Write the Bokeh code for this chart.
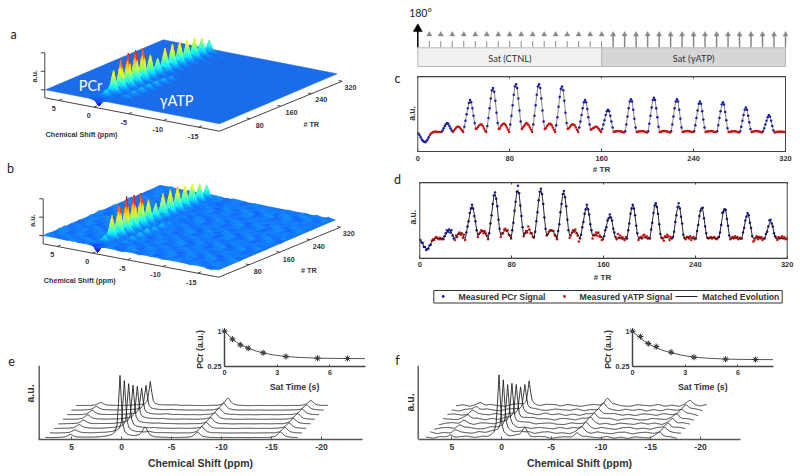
import numpy as np
from bokeh.embed import file_html
from bokeh.resources import INLINE
from bokeh.plotting import figure
from bokeh.models import Range1d, LinearAxis, FixedTicker
from bokeh.core.properties import value

# ---------- data ----------
matched_evolution = [
 24,22,19,16,14,13,12.5,14,16,19, 22,24,25,26,26.5,26.5,26.5,26,26,26,
 26,28,31,34,36.5,38,37,34,31,28, 26,28,30,32,33,33,32,30,28,26,
 33,41,50,58,65,69,66,58,48,38, 30,31,33,35,36,36,34,31,28,26,
 34,45,58,71,82,85,80,68,52,38, 30,31,34,36,37,37,35,32,29,26,
 36,48,62,76,87,90,85,71,55,40, 30,32,34,36,38,37,35,32,29,26,
 36,48,62,76,87,90,85,71,55,40, 30,31,34,36,37,37,35,32,29,26,
 35,46,60,73,84,87,82,68,52,38, 30,31,33,35,36.5,36,35,32,29,26,
 32,40,49,58,66,69,66,57,46,36, 29,30,31,32,33,33,32,30,28,26,
 30,36,42,49,54,56,54,48,40,32, 26.5,26.5,27,27,27.5,27,27,26.5,26,25.5,
 27,36,47,58,67,70,67,56,44,32, 26,26,27,27,27,27,27,26.5,26,25.5,
 27,37,48,59,69,72,69,58,46,33, 26,26,27,27,27.5,27,27,26.5,26,25.5,
 27,36,47,58,67,70,67,56,44,32, 26,26.5,27,27,27.5,27,27,26.5,26,26,
 27,35,45,55,64,67,64,54,43,32, 26,26.5,27,27,27,27.5,27,26.5,26,26,
 27,35,45,54,63,66,63,53,42,31, 26,26,26.5,27,27,27,27,26.5,26,25.5,
 27,33,41,49,56,59,56,48,39,30, 26,26.5,27,27,27.5,27,27,26.5,26,25.5,
 27,31,36,41,46,49,47,41,34,28, 25.5,26,26,26.5,26.5,26.5,26.5,26.5,26,26]

measured_d = [
 24,21,20,15,15,11,12,13,17,18, 23,25,24,27,28,26,25,27,25,26,
 25,29,33,37,35,38,34,37,30,26, 24,30,28,32,34,31,33,27,31,24,
 34,42,49,60,66,71,66,56,49,37, 28,32,34,37,36,33,36,33,30,25,
 33,46,57,72,83,87,79,69,51,39, 28,33,33,38,39,36,37,31,30,26,
 37,47,63,75,88,96,86,70,56,41, 29,33,36,34,42,38,33,33,28,28,
 35,49,61,77,88,92,85,72,54,39, 30,32,35,37,37,36,36,31,29,25,
 36,45,61,72,85,89,81,69,51,37, 27,30,34,37,35,38,33,30,22,26,
 31,41,48,59,65,71,65,58,45,37, 26,31,30,34,30,34,29,28,24,25,
 29,37,41,50,53,58,54,50,39,34, 28,25,32,27,30,26,28,25,24,28,
 26,37,46,59,66,71,66,57,43,33, 24,27,28,26,30,31,28,29,26,27,
 26,38,47,60,70,73,68,59,45,32, 27,26,23,29,28,31,29,24,28,26,
 28,35,48,57,68,73,66,55,46,31, 27,25,28,28,26,29,24,27,28,25,
 26,36,44,56,63,66,67,53,42,33, 27,26,27,28,26,27,28,26,25,27,
 28,34,44,60,62,65,64,52,43,30, 25,27,28,26,29,27,28,25,27,26,
 26,34,40,50,55,60,57,47,40,29, 22,24,27,29,25,28,26,28,24,26,
 26,32,35,42,50,51,46,42,33,29, 27,24,28,26,27,29,26,28,25,26]

tr_ticks = [0, 80, 160, 240, 320]
pulse_tr = list(range(10, 321, 10))

sat_times = [0, 0.45, 0.9, 1.35, 2.2, 3.5, 5.3, 7]
pcr_sat_e = [1, 0.83, 0.707, 0.636, 0.536, 0.457, 0.421, 0.414]
pcr_sat_f = [1, 0.885, 0.735, 0.67, 0.55, 0.442, 0.40, 0.393]
curve_t = [0, 0.2, 0.45, 0.7, 0.9, 1.35, 1.8, 2.2, 2.8, 3.5, 4.3, 5.3, 6.2, 7, 8]
curve_e = [1, 0.92, 0.835, 0.76, 0.715, 0.635, 0.575, 0.535, 0.49, 0.458, 0.437, 0.423, 0.417, 0.414, 0.412]
curve_f = [1, 0.93, 0.85, 0.78, 0.73, 0.645, 0.58, 0.54, 0.485, 0.445, 0.42, 0.403, 0.396, 0.393, 0.39]

ppm_ticks = [5, 0, -5, -10, -15, -20]
peak_off = [-6, -3, -2, -1.2, -0.8, -0.5, -0.3, -0.15, 0, 0.15, 0.3, 0.5, 0.8, 1.2, 2, 3, 6]
peak_val = [0, 0.005, 0.012, 0.03, 0.05, 0.09, 0.2, 0.55, 1, 0.55, 0.2, 0.09, 0.05, 0.03, 0.012, 0.005, 0]
broad_off = [-1.9, -1.0, -0.55, -0.28, -0.14, 0, 0.14, 0.28, 0.55, 1.0, 1.9]
broad_val = [0, 0.04, 0.2, 0.55, 0.85, 1, 0.85, 0.55, 0.2, 0.04, 0]
ridge_off = [-2.2, -1.6, -1.2, -0.8, -0.6, -0.4, -0.2, 0, 0.2, 0.4, 0.6, 0.8, 1.2, 1.6, 2.2]
ridge_val = [0, 0.01, 0.04, 0.12, 0.22, 0.4, 0.72, 1, 0.72, 0.4, 0.22, 0.12, 0.04, 0.01, 0]

e_pcr = [1.0, 0.844, 0.72, 0.624, 0.532, 0.43, 0.398, 0.387]
f_pcr = [1.0, 0.86, 0.70, 0.66, 0.57, 0.45, 0.42, 0.40]
atp_amp = [0.16, 0.02, 0.01, 0.01, 0.01, 0.01, 0.01, 0.01]
p5_amp = [0.05, 0.05, 0.06, 0.06, 0.07, 0.07, 0.06, 0.05]
m75_amp = [0.09, 0.1, 0.1, 0.1, 0.11, 0.11, 0.115, 0.12]
m16_amp = [0.09, 0.09, 0.09, 0.09, 0.09, 0.09, 0.085, 0.08]
wiggle = [0.008, -0.012, 0.015, -0.004, -0.016, 0.01, 0.017, -0.008, 0.003, -0.015, 0.012, 0.006,
          -0.011, 0.016, -0.002, -0.014, 0.009, 0.013, -0.017, 0.004, 0.011, -0.009, -0.013, 0.014,
          0.002, -0.006, 0.018, -0.012, 0.007, -0.016, 0.01, 0.001, -0.01, 0.015, -0.005, 0.012, -0.014]
ripple_u = [0.03, -0.04, 0.05, 0.01, -0.06, 0.04, -0.02, 0.06, -0.05, 0.02, 0.05, -0.03, -0.06, 0.03, 0.07, -0.01, -0.04, 0.05, 0.0, -0.07, 0.04, 0.02, -0.03]
ripple_v = [-0.02, 0.04, 0.0, -0.05, 0.06, 0.02, -0.04, 0.05, -0.01, -0.06, 0.03, 0.05, -0.03, 0.01, 0.06, -0.05, 0.02]

# ---------- canvas ----------
p = figure(width=800, height=476, x_range=Range1d(0, 800), y_range=Range1d(476, 0),
           toolbar_location=None, output_backend="svg", min_border=0,
           x_axis_location=None, y_axis_location=None, outline_line_color=None)
p.grid.visible = False

SANS = value("Liberation Sans")
LAT = value("Lato")
DARK = "#333333"

def xr(name, d0, d1, p0, p1):
    s = (d1 - d0) / (p1 - p0)
    p.extra_x_ranges[name] = Range1d(start=d0 + (0 - p0) * s, end=d0 + (800 - p0) * s)

def yr(name, d0, d1, p0, p1):
    s = (d1 - d0) / (p1 - p0)
    p.extra_y_ranges[name] = Range1d(start=d0 + (476 - p0) * s, end=d0 + (0 - p0) * s)

def txt(x, y, s, size=7.2, color=DARK, bold=True, font=SANS, angle=0, align="center"):
    p.text([x], [y], text=[s], text_font=font, text_font_size=f"{size}px", text_color=color,
           text_font_style="bold" if bold else "normal", text_align=align,
           text_baseline="middle", angle=angle)

def xaxis(xn, yn, loc, ticks, bounds, fs="7.5px", color=DARK, labels=True, tick_in=3, lw=1, lc="#444444", so=3):
    ax = LinearAxis(x_range_name=xn, y_range_name=yn, fixed_location=loc, ticker=FixedTicker(ticks=ticks),
                    bounds=bounds, major_tick_in=tick_in, major_tick_out=0, minor_tick_line_color=None,
                    axis_line_color=lc, axis_line_width=lw, major_tick_line_color=lc, major_tick_line_width=1,
                    major_label_text_font="Liberation Sans", major_label_text_font_style="bold",
                    major_label_text_font_size=fs, major_label_text_color=color if labels else None,
                    major_label_standoff=so,
                    major_label_overrides={t: str(t) for t in ticks})
    p.add_layout(ax, "below")
    return ax

def yaxis(xn, yn, loc, ticks, bounds, labels=None, lw=1, lc="#444444", fs="7.5px", tick_in=3):
    ax = LinearAxis(x_range_name=xn, y_range_name=yn, fixed_location=loc, ticker=FixedTicker(ticks=ticks),
                    bounds=bounds, major_tick_in=tick_in, major_tick_out=0, minor_tick_line_color=None,
                    axis_line_color=lc, axis_line_width=lw, major_tick_line_color=lc,
                    major_label_text_font="Liberation Sans", major_label_text_font_style="bold",
                    major_label_text_font_size=fs, major_label_text_color=DARK if labels else None,
                    major_label_standoff=3,
                    major_label_overrides=labels or {})
    p.add_layout(ax, "left")
    return ax

# ---------- panel letters ----------
for (x, y, s) in [(13, 34, "a"), (10, 168, "b"), (397, 78, "c"), (397, 179, "d"), (11, 360, "e"), (397, 360, "f")]:
    txt(x, y, s, size=12.5, color="#222222", bold=False, font=LAT)

# ---------- 3D surfaces ----------
def jet(t):
    t = np.clip(t, 0, 1)
    r = np.clip(min(4 * t - 1.5, -4 * t + 4.5), 0, 1)
    g = np.clip(min(4 * t - 0.5, -4 * t + 3.5), 0, 1)
    b = np.clip(min(4 * t + 0.5, -4 * t + 2.5), 0, 1)
    c = (np.array([r, g, b]) * 0.91 * 255 + 20).astype(int)
    return "#%02x%02x%02x" % tuple(np.clip(c, 0, 255))

def surface(org, ex, et, zs, series, rough):
    ox, oy = org
    def proj(ppm, tr, h):
        u = 7 - ppm
        return (ox + u * ex[0] / 25 + tr * et[0] / 320, oy + u * ex[1] / 25 + tr * et[1] / 320 - h * zs)
    c = [proj(7, 0, 0), proj(-18, 0, 0), proj(-18, 320, 0), proj(7, 320, 0)]
    p.patch([q[0] for q in c], [q[1] for q in c], fill_color="#1a6ce8", line_color="#1a6ce8", line_width=0.5)
    xs, ys, cols = [], [], []
    if rough:
        us = np.arange(7, -18.01, -0.8)
        ts = np.arange(320, -0.1, -8)
        def rz(i, j):
            return ripple_u[(i + j * 3) % 23] + ripple_v[(j + i * 5) % 17]
        for j in range(len(ts) - 1):
            for i in range(len(us) - 1):
                corners = [(i, j), (i + 1, j), (i + 1, j + 1), (i, j + 1)]
                q = [proj(us[a], ts[b], rz(a, b) * 0.35) for a, b in corners]
                m = np.mean([rz(a, b) for a, b in corners])
                xs.append([v[0] for v in q]); ys.append([v[1] for v in q]); cols.append(jet(0.235 + m * 0.55))
    amp = (np.array(series, float) - 26) / 64
    block = np.arange(320) // 10
    a_p = np.where(block % 2 == 0, amp, 0)
    a_a = np.where(block % 2 == 1, amp, 0)
    a_p = np.append(a_p, 0); a_a = np.append(a_a, 0)
    grid = np.arange(1.6, -4.41, -0.2)
    pk = np.interp(grid + 0.4, ridge_off, ridge_val)
    ak = np.interp(grid + 2.9, ridge_off, ridge_val) * 0.8
    for tr in range(319, -1, -1):
        h0 = a_p[tr] * pk + a_a[tr] * ak
        h1 = a_p[tr + 1] * pk + a_a[tr + 1] * ak
        for j in range(len(grid) - 1):
            hh = [h0[j], h0[j + 1], h1[j + 1], h1[j]]
            if max(abs(v) for v in hh) < 0.012:
                continue
            q = [proj(grid[j], tr, hh[0]), proj(grid[j + 1], tr, hh[1]),
                 proj(grid[j + 1], tr + 1, hh[2]), proj(grid[j], tr + 1, hh[3])]
            xs.append([v[0] for v in q]); ys.append([v[1] for v in q])
            cols.append(jet(0.23 + 0.77 * float(np.mean(hh))))
    p.patches(xs, ys, fill_color=cols, line_color=cols, line_width=0.4)

def axes3d(org, ex, et, flo, labs):
    p.line([flo[0][0], flo[1][0], flo[2][0]], [flo[0][1], flo[1][1], flo[2][1]], line_color="#444444", line_width=1)
    zx, zt, zb = flo[3]
    p.line([zx, zx], [zt, zb], line_color="#444444", line_width=1)
    zv = [zt, (zt + labs["z0"]) / 2, labs["z0"]]
    p.segment([zx - 4] * 3, zv, [zx] * 3, zv, line_color="#444444", line_width=1)
    fx0, fy0 = flo[0]; fx1, fy1 = flo[1]; fx2, fy2 = flo[2]
    L = 25.0
    sx, sy, ex2, ey2 = [], [], [], []
    for t in [5, 0, -5, -10, -15]:
        a = (7 - t) / L
        bx, by = fx0 + a * (fx1 - fx0), fy0 + a * (fy1 - fy0)
        sx.append(bx); sy.append(by); ex2.append(bx + 3.3); ey2.append(by - 1.4)
    for t in [80, 160, 240, 320]:
        a = t / 320
        bx, by = fx1 + a * (fx2 - fx1), fy1 + a * (fy2 - fy1)
        sx.append(bx); sy.append(by); ex2.append(bx - 3.5); ey2.append(by - 0.7)
    p.segment(sx, sy, ex2, ey2, line_color="#444444", line_width=1)
    for (x, y, s) in labs["t"]:
        txt(x, y, s)

org_a, ex_a, et_a = (45, 89.3), (174, 34), (117.7, -50)
surface(org_a, ex_a, et_a, 33.3, matched_evolution, False)
axes3d(org_a, ex_a, et_a, [(44.3, 97.3), (219, 130.7), (341.7, 80.7), (44.3, 52.3, 97.3)],
       {"z0": 89.3, "t": [(53.3, 108.3, "5"), (88.3, 115, "0"), (123.3, 121.7, "-5"), (157.3, 129, "-10"),
                          (192.7, 135.7, "-15"), (81, 134, "Chemical Shift (ppm)"), (259.3, 125, "80"),
                          (291, 112.3, "160"), (320.7, 99.3, "240"), (350, 86.7, "320"), (310.7, 124, "# TR")]})
txt(34, 75.7, "a.u.", angle=np.pi / 2)
txt(90, 85, "PCr", size=14.5, color="white", bold=False, font=LAT)
txt(176, 99.5, "γATP", size=14.5, color="white", bold=False, font=LAT)

org_b, ex_b, et_b = (43.3, 235), (175, 34.3), (116.7, -50)
surface(org_b, ex_b, et_b, 33, measured_d, True)
axes3d(org_b, ex_b, et_b, [(42.7, 243.3), (218.3, 276.7), (340, 226.7), (42.7, 198.3, 243.3)],
       {"z0": 235, "t": [(51.7, 254, "5"), (86.7, 260.7, "0"), (121.7, 267.7, "-5"), (155, 274.3, "-10"),
                         (190.7, 281.7, "-15"), (79.3, 280, "Chemical Shift (ppm)"), (257.3, 270.7, "80"),
                         (288.3, 259, "160"), (318.3, 245.7, "240"), (348.3, 232.7, "320"), (308.3, 270, "# TR")]})
txt(32.3, 220, "a.u.", angle=np.pi / 2)

# ---------- sequence diagram + panel c ----------
xr("cx", 0, 320, 417.3, 785)
yr("cy", 0, 100, 151, 76.3)
trs = np.arange(320)
blue = (trs // 10) % 2 == 0
p.line(trs + 0.5, matched_evolution, x_range_name="cx", y_range_name="cy", line_color="#777777", line_width=0.9)
m = np.array(matched_evolution)
p.scatter(trs[blue] + 0.5, m[blue], x_range_name="cx", y_range_name="cy", size=2.5, fill_color="#1c1ca8", line_color=None)
p.scatter(trs[~blue] + 0.5, m[~blue], x_range_name="cx", y_range_name="cy", size=2.5, fill_color="#c81414", line_color=None)
p.quad(left=[0], right=[320], top=[100], bottom=[0], x_range_name="cx", y_range_name="cy",
       fill_color=None, line_color="#444444", line_width=1)
xaxis("cx", "cy", 0, tr_ticks, (0, 320), so=4)
xa = xaxis("cx", "cy", 100, tr_ticks, (0, 320), labels=False, tick_in=0)
xa.major_tick_out = 2
txt(601, 168.7, "# TR", size=8)
txt(411.5, 113, "a.u.", size=8.5, angle=np.pi / 2)

pulse = np.array(pulse_tr)
left = pulse[pulse <= 160]
right = pulse[pulse > 160]
p.segment(left, [40.7] * len(left), left, [47] * len(left), x_range_name="cx", line_color="#888888", line_width=1)
p.segment(right, [34] * len(right), right, [47] * len(right), x_range_name="cx", line_color="#888888", line_width=1.5)
p.scatter(pulse, [34] * len(pulse), x_range_name="cx", marker="triangle", size=5, fill_color="#888888", line_color="#888888", line_width=0.5)
p.segment([0], [30], [0], [47], x_range_name="cx", line_color="black", line_width=1.5)
p.scatter([0], [28.5], x_range_name="cx", marker="triangle", size=9, fill_color="black", line_color="black", line_width=0.5)
txt(420, 12, "180°", size=10.5, color="#222222", bold=False, font=LAT)
p.quad(left=[0, 160], right=[160, 320], top=[47.3, 47.3], bottom=[66, 66], x_range_name="cx",
       fill_color=["#f1f1f1", "#d6d6d6"], line_color="#b8b8b8", line_width=1)
txt(509.3, 57.7, "Sat (CTNL)", size=9.2, bold=False, font=LAT)
txt(693, 57.7, "Sat (γATP)", size=9.2, bold=False, font=LAT)

# ---------- panel d ----------
xr("dx", 0, 320, 419.3, 786.7)
yr("dy", 0, 100, 257.7, 182.3)
d = np.array(measured_d)
p.scatter(trs[blue] + 0.5, d[blue], x_range_name="dx", y_range_name="dy", size=2.5, fill_color="#1c1ca8", line_color=None)
p.scatter(trs[~blue] + 0.5, d[~blue], x_range_name="dx", y_range_name="dy", size=2.5, fill_color="#c81414", line_color=None)
p.line(trs + 0.5, matched_evolution, x_range_name="dx", y_range_name="dy", line_color="#111111", line_width=0.9)
p.quad(left=[0], right=[320], top=[100], bottom=[0], x_range_name="dx", y_range_name="dy",
       fill_color=None, line_color="#444444", line_width=1)
xaxis("dx", "dy", 0, tr_ticks, (0, 320), so=4)
xa = xaxis("dx", "dy", 100, tr_ticks, (0, 320), labels=False, tick_in=0)
xa.major_tick_out = 2
txt(602, 277.3, "# TR", size=8)
txt(412.7, 216.7, "a.u.", size=8.5, angle=np.pi / 2)

# legend
p.quad(left=[433.3], right=[781.7], top=[290], bottom=[302.5], fill_color=None, line_color="#333333", line_width=1)
p.scatter([442.7], [296], size=2.8, fill_color="#1c1ca8", line_color=None)
p.scatter([564], [296], size=2.8, fill_color="#c81414", line_color=None)
p.line([675, 697], [296, 296], line_color="#222222", line_width=1)
txt(458, 296.2, "Measured PCr Signal", size=8.7, align="left")
txt(579, 296.2, "Measured γATP Signal", size=8.7, align="left")
txt(701.7, 296.2, "Matched Evolution", size=8.7, align="left")

# ---------- waterfalls ----------
def waterfall(xn, yn, pcr, peak0, noise):
    grid = np.arange(7.6, -17.61, -0.05)
    wx = np.linspace(7.6, -17.6, len(wiggle))
    for i in range(7, -1, -1):
        w = np.interp(grid, wx[::-1], np.roll(wiggle, i * 11)[::-1]) * noise
        y = (pcr[i] * np.interp(grid - peak0, peak_off, peak_val)
             + atp_amp[i] * np.interp(grid + 2.35, broad_off, broad_val)
             + p5_amp[i] * np.interp(grid - 5.1, broad_off, broad_val)
             + m75_amp[i] * np.interp(grid + 7.6, broad_off, broad_val)
             + m16_amp[i] * np.interp(grid + 15.9, broad_off, broad_val))
        p.line(grid - i * 0.433, y + i * 0.0737 + w, x_range_name=xn, y_range_name=yn,
               line_color="#222222", line_width=0.9)

def wf_axes(xn, yn, x_left, x_right, xorg):
    ppm_l = (xorg - x_left) / 10
    ppm_r = (xorg - x_right) / 10
    xaxis(xn, yn, -0.027, ppm_ticks, (ppm_r, ppm_l), fs="8.5px", lc="#555555", lw=1.4, so=5)

xr("ex", 0, -20, 121, 321)
yr("ey", 0, 1, 437, 375)
waterfall("ex", "ey", e_pcr, 0.15, 0.12)
wf_axes("ex", "ey", 38.3, 362, 121)
p.line([38.7, 38.7], [365.3, 438.7], line_color="#555555", line_width=1.4)
txt(200, 462, "Chemical Shift (ppm)", size=10.5)
txt(29, 393, "a.u.", size=10.5, angle=np.pi / 2)

xr("fx", 0, -20, 501, 700)
yr("fy", 0, 1, 437, 375)
waterfall("fx", "fy", f_pcr, 0.25, 1.0)
wf_axes("fx", "fy", 417.7, 741.7, 501)
p.line([417.7, 417.7], [365.3, 438.7], line_color="#555555", line_width=1.4)
txt(579, 462, "Chemical Shift (ppm)", size=10.5)
txt(409.5, 402, "a.u.", size=10.5, angle=np.pi / 2)

# ---------- insets ----------
def inset(nx, ny, x0, x1px, sat, curve, lab_x):
    xr(nx, 0, 3, x0, x0 + 52.7)
    yr(ny, 0.25, 1, 365.7, 330.7)
    p.line(curve_t, curve, x_range_name=nx, y_range_name=ny, line_color="#555555", line_width=1)
    p.scatter(sat_times, sat, x_range_name=nx, y_range_name=ny, marker="asterisk", size=6,
              line_color="#222222", line_width=1)
    p.scatter(sat_times, sat, x_range_name=nx, y_range_name=ny, size=2.5, fill_color="#444444", line_color=None)
    xaxis(nx, ny, 0.25, [0, 3, 6], (0, 8.05), fs="7.2px", lc="#444444", lw=1.5, tick_in=2, so=4)
    yaxis(nx, ny, 0, [0.25, 1], (0.25, 1), labels={0.25: "0.25", 1: "1"}, lw=1.5, tick_in=0, fs="7.2px")
    txt(x0 - 25, 349, "PCr (a.u.)", size=8.7, angle=np.pi / 2)
    txt(lab_x, 386, "Sat Time (s)", size=8.8)

inset("i1x", "i1y", 224, 365, pcr_sat_e, curve_e, 294)
inset("i2x", "i2y", 632, 773, pcr_sat_f, curve_f, 702.3)

open("out.html", "w").write(file_html(p, INLINE))
